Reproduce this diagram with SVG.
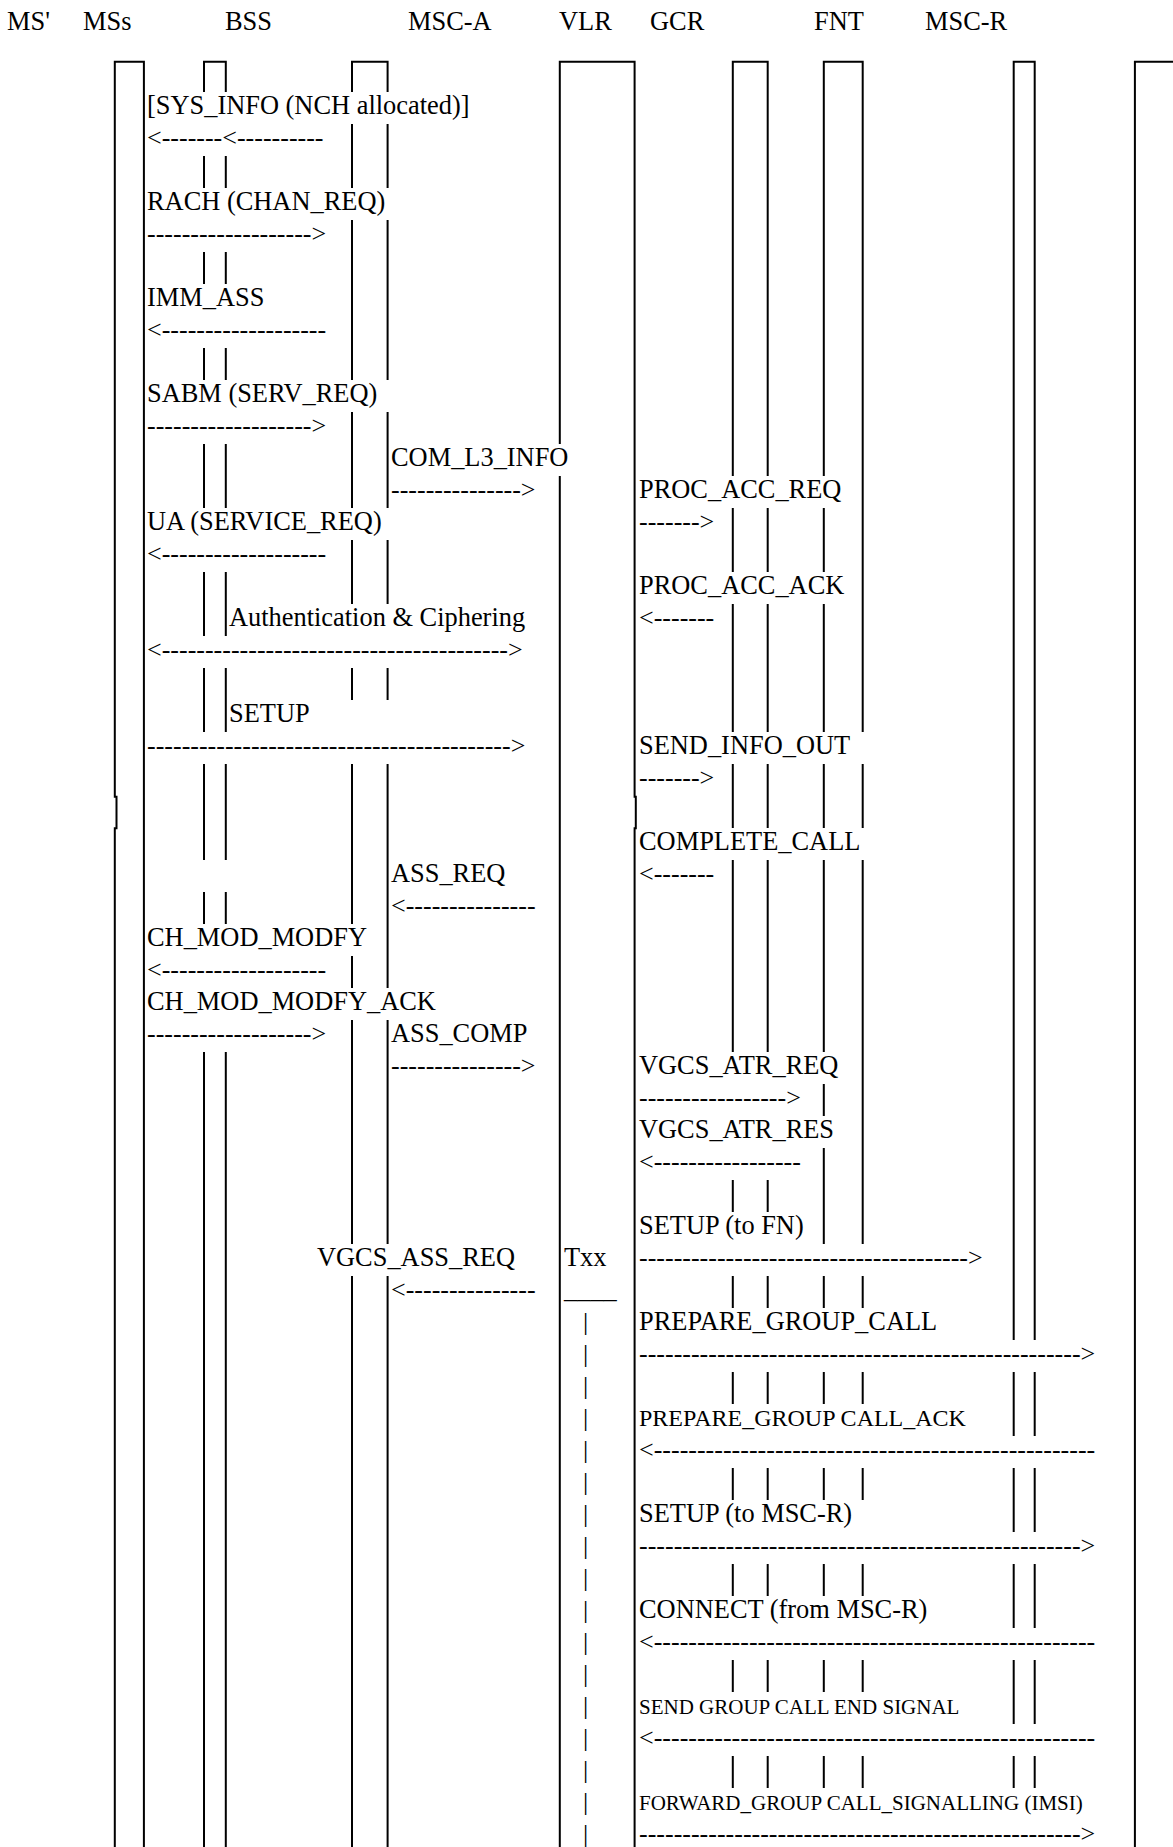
<svg xmlns="http://www.w3.org/2000/svg" width="1173" height="1847" viewBox="0 0 1173 1847">
<style>
text { font-family: "Liberation Serif", "Times New Roman", serif; font-size: 26.4px; fill: #000; }
.a { font-size: 26px; }
.s24 { font-size: 24px; }
.s21 { font-size: 21px; }
.life { fill: none; stroke: #000; stroke-width: 2; }
.bg { fill: #fff; }
</style>
<rect x="0" y="0" width="1173" height="1847" fill="#fff"/>
<g id="headers">
<text x="7" y="30">MS'</text>
<text x="83" y="30">MSs</text>
<text x="225" y="30">BSS</text>
<text x="408" y="30">MSC-A</text>
<text x="559" y="30">VLR</text>
<text x="650" y="30">GCR</text>
<text x="814" y="30">FNT</text>
<text x="925" y="30">MSC-R</text>
</g>
<g id="lifelines">
<g id="node-MSs"><path class="life" d="M114.8,1847 V828.3 H116.5 V796.7 H114.8 V61.7 H143.9 V1847"/></g>
<g id="node-BSS"><path class="life" d="M204,1847 V61.7 H225.8 V1847"/></g>
<g id="node-MSC-A"><path class="life" d="M352,1847 V61.7 H387.6 V1847"/></g>
<g id="node-VLR"><path class="life" d="M559.8,1847 V61.7 H634.6 V796.7 H635.8 V828.3 H634.6 V1847"/></g>
<g id="node-GCR"><path class="life" d="M732.8,1847 V61.7 H767.7 V1847"/></g>
<g id="node-FNT"><path class="life" d="M823.8,1847 V61.7 H862.7 V1847"/></g>
<g id="node-MSC-R"><path class="life" d="M1013.7,1847 V61.7 H1034.7 V1847"/></g>
<g id="node-right"><path class="life" d="M1134.9,1847 V61.7 H1176"/></g>
</g>
<g id="connectors">
<g id="msc-left">
<rect class="bg" x="146" y="92" width="336" height="32"/><text x="147" y="114">[SYS_INFO (NCH allocated)]</text>
<rect class="bg" x="146" y="124" width="190" height="32"/><text class="a" x="147" y="146">&lt;-------&lt;----------</text>
<rect class="bg" x="146" y="188" width="252" height="32"/><text x="147" y="210">RACH (CHAN_REQ)</text>
<rect class="bg" x="146" y="220" width="193" height="32"/><text class="a" x="147" y="242">-------------------&gt;</text>
<rect class="bg" x="146" y="284" width="131" height="32"/><text x="147" y="306">IMM_ASS</text>
<rect class="bg" x="146" y="316" width="193" height="32"/><text class="a" x="147" y="338">&lt;-------------------</text>
<rect class="bg" x="146" y="380" width="246" height="32"/><text x="147" y="402">SABM (SERV_REQ)</text>
<rect class="bg" x="146" y="412" width="193" height="32"/><text class="a" x="147" y="434">-------------------&gt;</text>
<rect class="bg" x="146" y="508" width="252" height="32"/><text x="147" y="530">UA (SERVICE_REQ)</text>
<rect class="bg" x="146" y="540" width="193" height="32"/><text class="a" x="147" y="562">&lt;-------------------</text>
<rect class="bg" x="228" y="604" width="310" height="32"/><text x="229" y="626">Authentication &amp; Ciphering</text>
<rect class="bg" x="146" y="636" width="389" height="32"/><text class="a" x="147" y="658">&lt;----------------------------------------&gt;</text>
<rect class="bg" x="228" y="700" width="172" height="32"/><text x="229" y="722">SETUP</text>
<rect class="bg" x="146" y="732" width="392" height="32"/><text class="a" x="147" y="754">------------------------------------------&gt;</text>
<rect class="bg" x="146" y="860" width="154" height="32"/>
<rect class="bg" x="146" y="924" width="233" height="32"/><text x="147" y="946">CH_MOD_MODFY</text>
<rect class="bg" x="146" y="956" width="193" height="32"/><text class="a" x="147" y="978">&lt;-------------------</text>
<rect class="bg" x="146" y="988" width="302" height="32"/><text x="147" y="1010">CH_MOD_MODFY_ACK</text>
<rect class="bg" x="146" y="1020" width="193" height="32"/><text class="a" x="147" y="1042">-------------------&gt;</text>
</g>
<g id="msc-a">
<rect class="bg" x="390" y="444" width="191" height="32"/><text x="391" y="466">COM_L3_INFO</text>
<rect class="bg" x="390" y="476" width="158" height="32"/><text class="a" x="391" y="498">---------------&gt;</text>
<rect class="bg" x="390" y="860" width="128" height="32"/><text x="391" y="882">ASS_REQ</text>
<rect class="bg" x="390" y="892" width="158" height="32"/><text class="a" x="391" y="914">&lt;---------------</text>
<rect class="bg" x="390" y="1020" width="150" height="32"/><text x="391" y="1042">ASS_COMP</text>
<rect class="bg" x="390" y="1052" width="158" height="32"/><text class="a" x="391" y="1074">---------------&gt;</text>
<rect class="bg" x="316" y="1244" width="212" height="32"/><text x="317" y="1266">VGCS_ASS_REQ</text>
<rect class="bg" x="390" y="1276" width="158" height="32"/><text class="a" x="391" y="1298">&lt;---------------</text>
</g>
<g id="timer">
<text x="564" y="1266">Txx</text>
<text x="564" y="1298">____</text>
<text class="a" x="583" y="1330">|</text>
<text class="a" x="583" y="1362">|</text>
<text class="a" x="583" y="1394">|</text>
<text class="a" x="583" y="1426">|</text>
<text class="a" x="583" y="1458">|</text>
<text class="a" x="583" y="1490">|</text>
<text class="a" x="583" y="1522">|</text>
<text class="a" x="583" y="1554">|</text>
<text class="a" x="583" y="1586">|</text>
<text class="a" x="583" y="1618">|</text>
<text class="a" x="583" y="1650">|</text>
<text class="a" x="583" y="1682">|</text>
<text class="a" x="583" y="1714">|</text>
<text class="a" x="583" y="1746">|</text>
<text class="a" x="583" y="1778">|</text>
<text class="a" x="583" y="1810">|</text>
<text class="a" x="583" y="1842">|</text>
</g>
<g id="msc-right">
<rect class="bg" x="638" y="476" width="220" height="32"/><text x="639" y="498">PROC_ACC_REQ</text>
<rect class="bg" x="638" y="508" width="88" height="32"/><text class="a" x="639" y="530">-------&gt;</text>
<rect class="bg" x="638" y="572" width="222" height="32"/><text x="639" y="594">PROC_ACC_ACK</text>
<rect class="bg" x="638" y="604" width="88" height="32"/><text class="a" x="639" y="626">&lt;-------</text>
<rect class="bg" x="638" y="732" width="232" height="32"/><text x="639" y="754">SEND_INFO_OUT</text>
<rect class="bg" x="638" y="764" width="88" height="32"/><text class="a" x="639" y="786">-------&gt;</text>
<rect class="bg" x="638" y="828" width="234" height="32"/><text x="639" y="850">COMPLETE_CALL</text>
<rect class="bg" x="638" y="860" width="88" height="32"/><text class="a" x="639" y="882">&lt;-------</text>
<rect class="bg" x="638" y="1052" width="215" height="32"/><text x="639" y="1074">VGCS_ATR_REQ</text>
<rect class="bg" x="638" y="1084" width="175" height="32"/><text class="a" x="639" y="1106">-----------------&gt;</text>
<rect class="bg" x="638" y="1116" width="211" height="32"/><text x="639" y="1138">VGCS_ATR_RES</text>
<rect class="bg" x="638" y="1148" width="175" height="32"/><text class="a" x="639" y="1170">&lt;-----------------</text>
<rect class="bg" x="638" y="1212" width="178" height="32"/><text x="639" y="1234">SETUP (to FN)</text>
<rect class="bg" x="638" y="1244" width="357" height="32"/><text class="a" x="639" y="1266">--------------------------------------&gt;</text>
<rect class="bg" x="638" y="1308" width="314" height="32"/><text x="639" y="1330">PREPARE_GROUP_CALL</text>
<rect class="bg" x="638" y="1340" width="470" height="32"/><text class="a" x="639" y="1362">---------------------------------------------------&gt;</text>
<rect class="bg" x="638" y="1404" width="343" height="32"/><text class="s24" x="639" y="1426">PREPARE_GROUP CALL_ACK</text>
<rect class="bg" x="638" y="1436" width="470" height="32"/><text class="a" x="639" y="1458">&lt;---------------------------------------------------</text>
<rect class="bg" x="638" y="1500" width="227" height="32"/><text x="639" y="1522">SETUP (to MSC-R)</text>
<rect class="bg" x="638" y="1532" width="470" height="32"/><text class="a" x="639" y="1554">---------------------------------------------------&gt;</text>
<rect class="bg" x="638" y="1596" width="302" height="32"/><text x="639" y="1618">CONNECT (from MSC-R)</text>
<rect class="bg" x="638" y="1628" width="470" height="32"/><text class="a" x="639" y="1650">&lt;---------------------------------------------------</text>
<rect class="bg" x="638" y="1692" width="335" height="32"/><text class="s21" x="639" y="1714">SEND GROUP CALL END SIGNAL</text>
<rect class="bg" x="638" y="1724" width="470" height="32"/><text class="a" x="639" y="1746">&lt;---------------------------------------------------</text>
<rect class="bg" x="638" y="1788" width="460" height="32"/><text class="s21" x="639" y="1810">FORWARD_GROUP CALL_SIGNALLING (IMSI)</text>
<rect class="bg" x="638" y="1820" width="470" height="32"/><text class="a" x="639" y="1842">---------------------------------------------------&gt;</text>
</g>
</g>
</svg>
